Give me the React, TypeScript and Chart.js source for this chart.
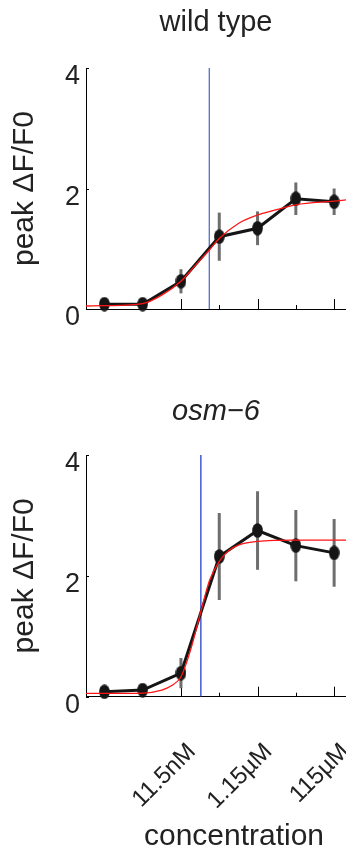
import React, { useEffect, useRef } from 'react';
import { Chart, registerables } from 'chart.js';

Chart.register(...registerables);

// ---------- data ----------
const CONC_INDEX = [0, 1, 2, 3, 4, 5, 6];
const X_LABEL_VALUES = [2, 4, 6];
const X_LABELS = ['11.5nM', '1.15µM', '115µM'];
const MAJOR_TICKS = [0, 2, 4, 6];
const MINOR_TICKS = [1, 3, 5];
const Y_TICKS = [0, 2, 4];
const X_MIN = -0.48;
const X_MAX = 6.31;
const Y_MIN = 0;
const Y_MAX = 4;

const WT_TITLE = 'wild type';
const WT_MEAN = [0.08, 0.08, 0.46, 1.2, 1.34, 1.83, 1.78];
const WT_SEM = [0.03, 0.04, 0.2, 0.4, 0.28, 0.27, 0.22];
const WT_FIT_X = [-0.48, 0, 1, 1.5, 2, 2.37, 2.74, 3, 3.5, 4, 4.5, 5, 6, 6.31];
const WT_FIT_Y = [0.05, 0.055, 0.09, 0.23, 0.46, 0.72, 0.98, 1.17, 1.42, 1.56, 1.65, 1.73, 1.79, 1.81];
const WT_EC50 = 2.74;

const OSM_TITLE = 'osm\u22126';
const OSM_MEAN = [0.08, 0.11, 0.39, 2.32, 2.75, 2.5, 2.38];
const OSM_SEM = [0.03, 0.03, 0.25, 0.72, 0.65, 0.59, 0.56];
const OSM_FIT_X = [-0.48, 0, 1, 1.5, 1.75, 2, 2.25, 2.52, 2.75, 3, 3.25, 3.5, 4, 5, 6.31];
const OSM_FIT_Y = [0.055, 0.055, 0.06, 0.11, 0.18, 0.33, 0.77, 1.41, 1.93, 2.24, 2.42, 2.51, 2.57, 2.59, 2.59];
const OSM_EC50 = 2.52;

const Y_TITLE = 'peak \u0394F/F0';
const X_TITLE = 'concentration';

// ---------- styles ----------
const FONT = "'Liberation Sans', Arial, Helvetica, sans-serif";
const TEXT = '#222222';

function makeDot() {
  const c = document.createElement('canvas');
  c.width = 11;
  c.height = 15;
  const g = c.getContext('2d')!;
  g.fillStyle = '#151515';
  g.beginPath();
  g.ellipse(5.5, 7.5, 5.3, 7.3, 0, 0, Math.PI * 2);
  g.fill();
  return c;
}

function makeDecor(xTitle: string | null) {
  return {
    id: 'panelDecor',
    beforeDatasetsDraw(chart: any) {
      const ctx = chart.ctx;
      const xs = chart.scales.x;
      const ys = chart.scales.y;
      const area = chart.chartArea;
      ctx.save();
      ctx.strokeStyle = '#000';
      ctx.lineWidth = 1;
      const bottom = area.bottom;
      const drawX = (vals: number[], len: number) => {
        vals.forEach((v) => {
          const px = Math.round(xs.getPixelForValue(v)) + 0.5;
          ctx.beginPath();
          ctx.moveTo(px, bottom);
          ctx.lineTo(px, bottom - len);
          ctx.stroke();
        });
      };
      drawX(MAJOR_TICKS, 10);
      drawX(MINOR_TICKS, 4);
      Y_TICKS.forEach((v) => {
        const py = Math.round(ys.getPixelForValue(v)) + 0.5;
        ctx.beginPath();
        ctx.moveTo(area.left, py);
        ctx.lineTo(area.left + 3, py);
        ctx.stroke();
      });
      // error bars
      chart.data.datasets.forEach((ds: any) => {
        if (!ds.errorBars) return;
        ctx.strokeStyle = '#6e6e6e';
        ctx.lineWidth = 3;
        ds.data.forEach((pt: any, i: number) => {
          const e = ds.errorBars[i];
          const px = xs.getPixelForValue(pt.x);
          ctx.beginPath();
          ctx.moveTo(px, ys.getPixelForValue(pt.y + e));
          ctx.lineTo(px, ys.getPixelForValue(pt.y - e));
          ctx.stroke();
        });
      });
      ctx.restore();
    },
    afterDraw(chart: any) {
      if (!xTitle) return;
      const ctx = chart.ctx;
      ctx.save();
      ctx.font = `30px ${FONT}`;
      ctx.fillStyle = TEXT;
      ctx.textAlign = 'center';
      ctx.textBaseline = 'alphabetic';
      ctx.fillText(xTitle, 234, chart.height - 7);
      ctx.restore();
    },
  };
}

function buildConfig(p: {
  title: string;
  italic: boolean;
  mean: number[];
  sem: number[];
  fitX: number[];
  fitY: number[];
  ec50: number;
  blue: string;
  showXLabels: boolean;
  titlePad: { top: number; bottom: number };
  xAxisH: number;
  xTitle: string | null;
  dot: HTMLCanvasElement;
}): any {
  return {
    type: 'line',
    data: {
      datasets: [
        {
          data: p.fitX.map((x, i) => ({ x, y: p.fitY[i] })),
          borderColor: '#ff1414',
          borderWidth: 1.3,
          pointRadius: 0,
          cubicInterpolationMode: 'monotone',
          clip: false,
          order: 0,
        },
        {
          data: CONC_INDEX.map((x, i) => ({ x, y: p.mean[i] })),
          errorBars: p.sem,
          borderColor: '#151515',
          borderWidth: 3,
          pointStyle: p.dot,
          pointRadius: 6,
          clip: false,
          order: 1,
        },
        {
          data: [
            { x: p.ec50, y: Y_MIN },
            { x: p.ec50, y: Y_MAX },
          ],
          borderColor: p.blue,
          borderWidth: 1.3,
          pointRadius: 0,
          order: 2,
        },
      ],
    },
    options: {
      responsive: false,
      devicePixelRatio: 1,
      animation: false,
      events: [],
      layout: { padding: 0, autoPadding: false },
      plugins: {
        legend: { display: false },
        tooltip: { enabled: false },
        title: {
          display: true,
          text: p.title,
          fullSize: false,
          color: TEXT,
          font: { family: FONT, size: 29, style: p.italic ? 'italic' : 'normal', weight: 'normal' },
          padding: p.titlePad,
        },
      },
      scales: {
        x: {
          type: 'linear',
          min: X_MIN,
          max: X_MAX,
          grid: { display: false, drawTicks: false },
          border: { display: true, color: '#000', width: 1 },
          afterBuildTicks: (s: any) => {
            s.ticks = X_LABEL_VALUES.map((v) => ({ value: v }));
          },
          ticks: {
            display: p.showXLabels,
            autoSkip: false,
            minRotation: 45,
            maxRotation: 45,
            padding: 41,
            labelOffset: 11,
            color: TEXT,
            font: { family: FONT, size: 24 },
            callback: (v: number) => {
              const i = X_LABEL_VALUES.indexOf(v);
              return i >= 0 ? X_LABELS[i] : '';
            },
          },
          afterFit: (s: any) => {
            s.height = p.xAxisH;
            s.paddingLeft = 0;
            s.paddingRight = 0;
            s.paddingTop = 0;
            s.paddingBottom = 0;
          },
        },
        y: {
          type: 'linear',
          min: Y_MIN,
          max: Y_MAX,
          grid: { display: false, drawTicks: false },
          border: { display: true, color: '#000', width: 1 },
          afterBuildTicks: (s: any) => {
            s.ticks = Y_TICKS.map((v) => ({ value: v }));
          },
          ticks: {
            color: TEXT,
            padding: 6,
            labelOffset: 9,
            font: { family: FONT, size: 27 },
            callback: (v: number) => String(v),
          },
          title: {
            display: true,
            text: Y_TITLE,
            color: TEXT,
            font: { family: FONT, size: 30 },
            padding: { top: 7, bottom: 0 },
          },
          afterFit: (s: any) => {
            s.width = 86;
            s.paddingTop = 0;
            s.paddingBottom = 0;
            s.paddingLeft = 0;
            s.paddingRight = 0;
          },
        },
      },
    },
    plugins: [makeDecor(p.xTitle)],
  };
}

export default function App() {
  const topRef = useRef<HTMLCanvasElement | null>(null);
  const botRef = useRef<HTMLCanvasElement | null>(null);

  useEffect(() => {
    const dot = makeDot();
    const c1 = new Chart(
      topRef.current!,
      buildConfig({
        title: WT_TITLE,
        italic: false,
        mean: WT_MEAN,
        sem: WT_SEM,
        fitX: WT_FIT_X,
        fitY: WT_FIT_Y,
        ec50: WT_EC50,
        blue: '#4f6fd0',
        showXLabels: false,
        titlePad: { top: 5.2, bottom: 28 },
        xAxisH: 31,
        xTitle: null,
        dot,
      })
    );
    const c2 = new Chart(
      botRef.current!,
      buildConfig({
        title: OSM_TITLE,
        italic: true,
        mean: OSM_MEAN,
        sem: OSM_SEM,
        fitX: OSM_FIT_X,
        fitY: OSM_FIT_Y,
        ec50: OSM_EC50,
        blue: '#2340c8',
        showXLabels: true,
        titlePad: { top: 54.2, bottom: 26 },
        xAxisH: 155.3,
        xTitle: X_TITLE,
        dot,
      })
    );
    return () => {
      c1.destroy();
      c2.destroy();
    };
  }, []);

  return (
    <div style={{ position: 'absolute', left: 0, top: 0, width: 346, height: 852, background: '#fff' }}>
      <canvas
        ref={topRef}
        width={346}
        height={340}
        style={{ position: 'absolute', left: 0, top: 0, width: 346, height: 340 }}
      />
      <canvas
        ref={botRef}
        width={346}
        height={512}
        style={{ position: 'absolute', left: 0, top: 340, width: 346, height: 512 }}
      />
    </div>
  );
}
